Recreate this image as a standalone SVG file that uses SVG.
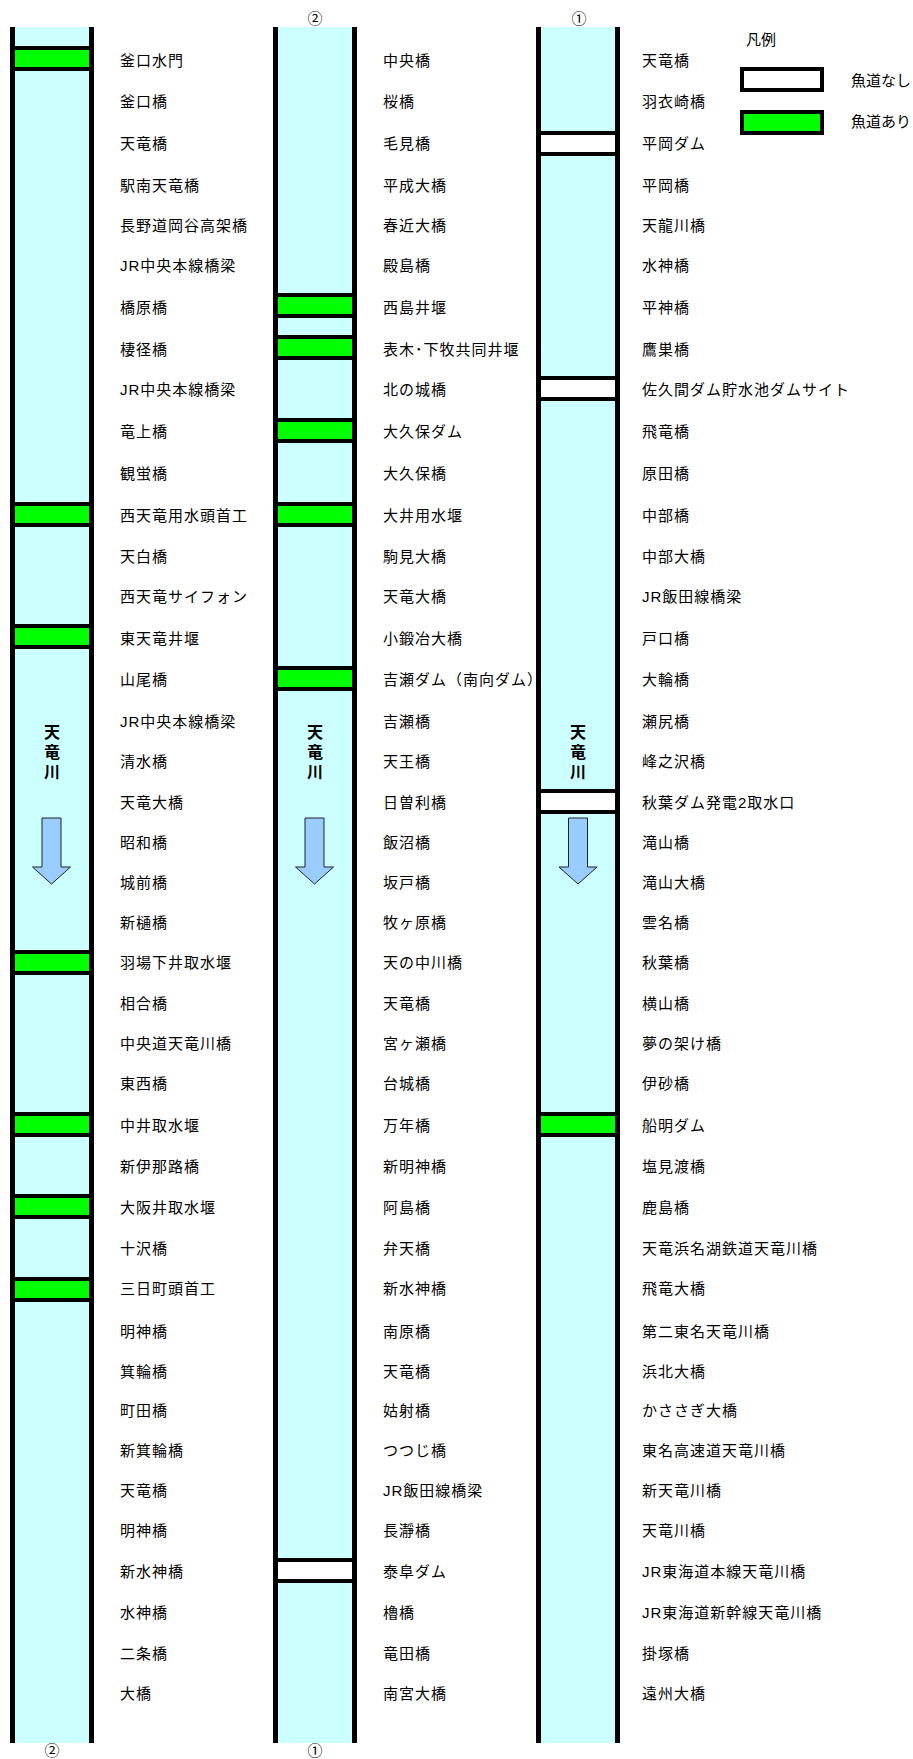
<svg xmlns="http://www.w3.org/2000/svg" xmlns:xlink="http://www.w3.org/1999/xlink" width="913" height="1759" viewBox="0 0 913 1759">
<style>
.t{font-family:"Liberation Sans","Noto Sans CJK JP",sans-serif;font-size:15px;letter-spacing:1px;fill:#000}
.lg{font-family:"Liberation Sans","Noto Sans CJK JP",sans-serif;font-size:15px;fill:#000}
.n{font-family:"Noto Sans CJK JP","DejaVu Sans",sans-serif;font-size:15px;fill:#000;text-anchor:middle}
.v{font-family:"Noto Sans CJK JP",sans-serif;font-size:16px;font-weight:bold;fill:#000;writing-mode:tb;letter-spacing:4px}
.water{fill:#CCFFFF;stroke:none}
.bank{stroke:#000;stroke-width:5;fill:none}
.g{fill:#00FF00;stroke:#000;stroke-width:4}
.w{fill:#FFFFFF;stroke:#000;stroke-width:4}
.arr{fill:#99CCFF;stroke:#222;stroke-width:1}
</style>
<defs>
<path id="arrow" class="arr" d="M-9.5,0 H9.5 V49 H19 L0,66 L-19,49 H-9.5 Z"/>
</defs>
<rect width="913" height="1759" fill="#fff"/>

<g id="col1">
<rect class="water" x="12.5" y="27" width="79" height="1716"/>
<g id="col1-bands">
<rect class="g" x="12.5" y="48" width="79" height="21"/>
<rect class="g" x="12.5" y="504" width="79" height="21"/>
<rect class="g" x="12.5" y="626" width="79" height="21"/>
<rect class="g" x="12.5" y="952" width="79" height="21"/>
<rect class="g" x="12.5" y="1114" width="79" height="21"/>
<rect class="g" x="12.5" y="1196" width="79" height="21"/>
<rect class="g" x="12.5" y="1279" width="79" height="21"/>
</g>
<line class="bank" x1="12.5" y1="27" x2="12.5" y2="1743"/>
<line class="bank" x1="91.5" y1="27" x2="91.5" y2="1743"/>
<text class="v" x="52" y="724">天竜川</text>
<use xlink:href="#arrow" x="51.5" y="818"/>
</g>

<g id="col2">
<rect class="water" x="275.5" y="27" width="79" height="1716"/>
<g id="col2-bands">
<rect class="g" x="275.5" y="295" width="79" height="21"/>
<rect class="g" x="275.5" y="337" width="79" height="21"/>
<rect class="g" x="275.5" y="420" width="79" height="21"/>
<rect class="g" x="275.5" y="504" width="79" height="21"/>
<rect class="g" x="275.5" y="668" width="79" height="21"/>
<rect class="w" x="275.5" y="1560" width="79" height="21"/>
</g>
<line class="bank" x1="275.5" y1="27" x2="275.5" y2="1743"/>
<line class="bank" x1="354.5" y1="27" x2="354.5" y2="1743"/>
<text class="v" x="315" y="724">天竜川</text>
<use xlink:href="#arrow" x="314.5" y="818"/>
</g>

<g id="col3">
<rect class="water" x="538.5" y="27" width="79" height="1716"/>
<g id="col3-bands">
<rect class="w" x="538.5" y="133" width="79" height="21"/>
<rect class="w" x="538.5" y="378" width="79" height="21"/>
<rect class="w" x="538.5" y="791" width="79" height="21"/>
<rect class="g" x="538.5" y="1114" width="79" height="21"/>
</g>
<line class="bank" x1="538.5" y1="27" x2="538.5" y2="1743"/>
<line class="bank" x1="617.5" y1="27" x2="617.5" y2="1743"/>
<text class="v" x="578" y="724">天竜川</text>
<use xlink:href="#arrow" x="578" y="818"/>
</g>

<g id="markers">
<text class="n" x="315" y="24">②</text>
<text class="n" x="579" y="24">①</text>
<text class="n" x="52" y="1756">②</text>
<text class="n" x="315" y="1756">①</text>
</g>

<g id="legend">
<text class="lg" x="746" y="45">凡例</text>
<rect class="w" x="742" y="69" width="80" height="21"/>
<text class="lg" x="851" y="86">魚道なし</text>
<rect class="g" x="742" y="112" width="80" height="21"/>
<text class="lg" x="851" y="127">魚道あり</text>
</g>

<g id="labels1" class="t">
<text x="120" y="65.5">釜口水門</text>
<text x="120" y="107">釜口橋</text>
<text x="120" y="149">天竜橋</text>
<text x="120" y="190.5">駅南天竜橋</text>
<text x="120" y="230.5">長野道岡谷高架橋</text>
<text x="120" y="270.5">JR中央本線橋梁</text>
<text x="120" y="312.5">橋原橋</text>
<text x="120" y="354.5">棲径橋</text>
<text x="120" y="394.5">JR中央本線橋梁</text>
<text x="120" y="436.5">竜上橋</text>
<text x="120" y="478.5">観蛍橋</text>
<text x="120" y="520.5">西天竜用水頭首工</text>
<text x="120" y="561.5">天白橋</text>
<text x="120" y="601.5">西天竜サイフォン</text>
<text x="120" y="643.5">東天竜井堰</text>
<text x="120" y="684.5">山尾橋</text>
<text x="120" y="726.5">JR中央本線橋梁</text>
<text x="120" y="766.5">清水橋</text>
<text x="120" y="807.5">天竜大橋</text>
<text x="120" y="847.5">昭和橋</text>
<text x="120" y="887.5">城前橋</text>
<text x="120" y="927.5">新樋橋</text>
<text x="120" y="967.5">羽場下井取水堰</text>
<text x="120" y="1008.5">相合橋</text>
<text x="120" y="1048.5">中央道天竜川橋</text>
<text x="120" y="1088.5">東西橋</text>
<text x="120" y="1130.5">中井取水堰</text>
<text x="120" y="1171.5">新伊那路橋</text>
<text x="120" y="1212.5">大阪井取水堰</text>
<text x="120" y="1253.5">十沢橋</text>
<text x="120" y="1293.5">三日町頭首工</text>
<text x="120" y="1336.5">明神橋</text>
<text x="120" y="1376.5">箕輪橋</text>
<text x="120" y="1415.5">町田橋</text>
<text x="120" y="1455.5">新箕輪橋</text>
<text x="120" y="1495.5">天竜橋</text>
<text x="120" y="1535.5">明神橋</text>
<text x="120" y="1576.5">新水神橋</text>
<text x="120" y="1617.5">水神橋</text>
<text x="120" y="1658.5">二条橋</text>
<text x="120" y="1698.5">大橋</text>
</g>

<g id="labels2" class="t">
<text x="383" y="65.5">中央橋</text>
<text x="383" y="107">桜橋</text>
<text x="383" y="149">毛見橋</text>
<text x="383" y="190.5">平成大橋</text>
<text x="383" y="230.5">春近大橋</text>
<text x="383" y="270.5">殿島橋</text>
<text x="383" y="312.5">西島井堰</text>
<text x="383" y="354.5">表木･下牧共同井堰</text>
<text x="383" y="394.5">北の城橋</text>
<text x="383" y="436.5">大久保ダム</text>
<text x="383" y="478.5">大久保橋</text>
<text x="383" y="520.5">大井用水堰</text>
<text x="383" y="561.5">駒見大橋</text>
<text x="383" y="601.5">天竜大橋</text>
<text x="383" y="643.5">小鍛冶大橋</text>
<text x="383" y="684.5">吉瀬ダム（南向ダム）</text>
<text x="383" y="726.5">吉瀬橋</text>
<text x="383" y="766.5">天王橋</text>
<text x="383" y="807.5">日曽利橋</text>
<text x="383" y="847.5">飯沼橋</text>
<text x="383" y="887.5">坂戸橋</text>
<text x="383" y="927.5">牧ヶ原橋</text>
<text x="383" y="967.5">天の中川橋</text>
<text x="383" y="1008.5">天竜橋</text>
<text x="383" y="1048.5">宮ヶ瀬橋</text>
<text x="383" y="1088.5">台城橋</text>
<text x="383" y="1130.5">万年橋</text>
<text x="383" y="1171.5">新明神橋</text>
<text x="383" y="1212.5">阿島橋</text>
<text x="383" y="1253.5">弁天橋</text>
<text x="383" y="1293.5">新水神橋</text>
<text x="383" y="1336.5">南原橋</text>
<text x="383" y="1376.5">天竜橋</text>
<text x="383" y="1415.5">姑射橋</text>
<text x="383" y="1455.5">つつじ橋</text>
<text x="383" y="1495.5">JR飯田線橋梁</text>
<text x="383" y="1535.5">長瀞橋</text>
<text x="383" y="1576.5">泰阜ダム</text>
<text x="383" y="1617.5">櫓橋</text>
<text x="383" y="1658.5">竜田橋</text>
<text x="383" y="1698.5">南宮大橋</text>
</g>

<g id="labels3" class="t">
<text x="642" y="65.5">天竜橋</text>
<text x="642" y="107">羽衣崎橋</text>
<text x="642" y="149">平岡ダム</text>
<text x="642" y="190.5">平岡橋</text>
<text x="642" y="230.5">天龍川橋</text>
<text x="642" y="270.5">水神橋</text>
<text x="642" y="312.5">平神橋</text>
<text x="642" y="354.5">鷹巣橋</text>
<text x="642" y="394.5">佐久間ダム貯水池ダムサイト</text>
<text x="642" y="436.5">飛竜橋</text>
<text x="642" y="478.5">原田橋</text>
<text x="642" y="520.5">中部橋</text>
<text x="642" y="561.5">中部大橋</text>
<text x="642" y="601.5">JR飯田線橋梁</text>
<text x="642" y="643.5">戸口橋</text>
<text x="642" y="684.5">大輪橋</text>
<text x="642" y="726.5">瀬尻橋</text>
<text x="642" y="766.5">峰之沢橋</text>
<text x="642" y="807.5">秋葉ダム発電2取水口</text>
<text x="642" y="847.5">滝山橋</text>
<text x="642" y="887.5">滝山大橋</text>
<text x="642" y="927.5">雲名橋</text>
<text x="642" y="967.5">秋葉橋</text>
<text x="642" y="1008.5">横山橋</text>
<text x="642" y="1048.5">夢の架け橋</text>
<text x="642" y="1088.5">伊砂橋</text>
<text x="642" y="1130.5">船明ダム</text>
<text x="642" y="1171.5">塩見渡橋</text>
<text x="642" y="1212.5">鹿島橋</text>
<text x="642" y="1253.5">天竜浜名湖鉄道天竜川橋</text>
<text x="642" y="1293.5">飛竜大橋</text>
<text x="642" y="1336.5">第二東名天竜川橋</text>
<text x="642" y="1376.5">浜北大橋</text>
<text x="642" y="1415.5">かささぎ大橋</text>
<text x="642" y="1455.5">東名高速道天竜川橋</text>
<text x="642" y="1495.5">新天竜川橋</text>
<text x="642" y="1535.5">天竜川橋</text>
<text x="642" y="1576.5">JR東海道本線天竜川橋</text>
<text x="642" y="1617.5">JR東海道新幹線天竜川橋</text>
<text x="642" y="1658.5">掛塚橋</text>
<text x="642" y="1698.5">遠州大橋</text>
</g>
</svg>
